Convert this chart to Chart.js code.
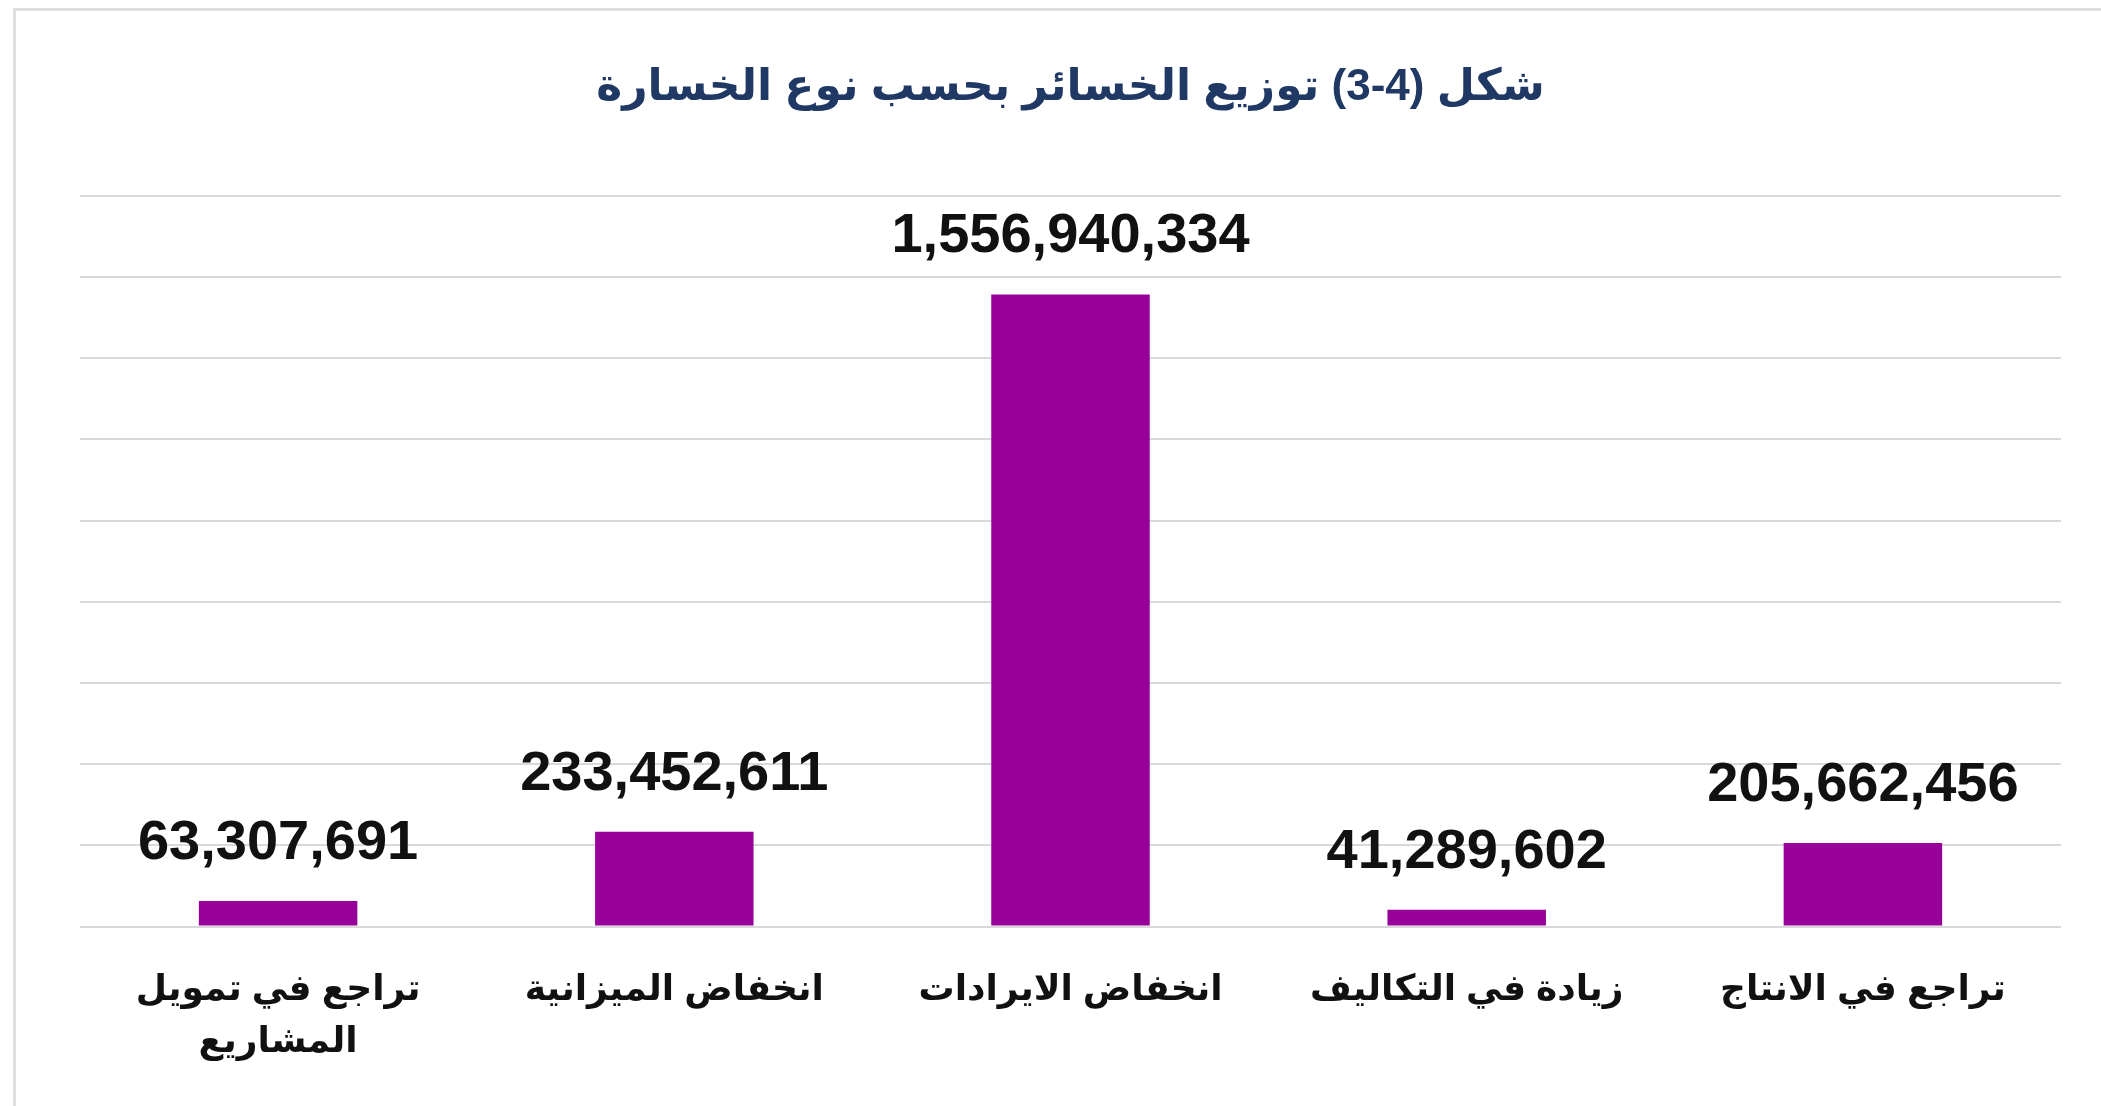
<!DOCTYPE html>
<html lang="ar">
<head>
<meta charset="utf-8">
<script src="https://cdn.jsdelivr.net/npm/chart.js@4/dist/chart.umd.min.js"></script>
<style>
  html, body { margin: 0; padding: 0; background: #ffffff; }
  #wrap { position: relative; width: 2101px; height: 1106px; }
  #frame { position: absolute; left: 13px; top: 8px; right: -10px; bottom: -10px;
           border-top: 3px solid #dedede; border-left: 3px solid #dedede; pointer-events: none; }
  canvas { direction: rtl; }
</style>
</head>
<body>
<div id="wrap">
  <canvas id="c" width="2101" height="1106"></canvas>
  <div id="frame"></div>
</div>
<script>
// Categories listed in Arabic reading order (right to left on the chart)
const categories = [
  "تراجع في الانتاج",
  "زيادة في التكاليف",
  "انخفاض الايرادات",
  "انخفاض الميزانية",
  ["تراجع في تمويل", "المشاريع"]
];
const lossValues = [205662456, 41289602, 1556940334, 233452611, 63307691];
const chartTitle = "شكل (\u20663-4\u2069) توزيع الخسائر بحسب نوع الخسارة";
const yMax = 1800000000;
const yStep = 200000000;

const valueLabels = {
  id: 'valueLabels',
  afterDatasetsDraw(chart) {
    const ctx = chart.ctx;
    const meta = chart.getDatasetMeta(0);
    ctx.save();
    ctx.font = 'bold 56px "Liberation Sans", Arial, sans-serif';
    ctx.fillStyle = '#111111';
    ctx.textAlign = 'center';
    ctx.textBaseline = 'alphabetic';
    ctx.direction = 'ltr';
    meta.data.forEach((bar, i) => {
      const v = chart.data.datasets[0].data[i];
      ctx.fillText(v.toLocaleString('en-US'), bar.x, bar.y - 42);
    });
    ctx.restore();
  }
};

new Chart(document.getElementById('c'), {
  type: 'bar',
  data: {
    labels: categories,
    datasets: [{
      data: lossValues,
      backgroundColor: '#98009a',
      borderWidth: 0,
      barPercentage: 0.4,
      categoryPercentage: 1.0
    }]
  },
  options: {
    responsive: false,
    animation: false,
    devicePixelRatio: 1,
    layout: { padding: { left: 80, right: 40, top: 53, bottom: 1 } },
    plugins: {
      legend: { display: false },
      tooltip: { enabled: false },
      title: {
        display: true,
        text: chartTitle,
        color: '#1f3864',
        font: { family: 'Arial, "Liberation Sans", "DejaVu Sans", sans-serif', size: 44, weight: 'bold', lineHeight: 1.2 },
        padding: { top: 8, bottom: 82 }
      }
    },
    scales: {
      x: {
        reverse: true,
        grid: { display: false, drawTicks: false },
        border: { display: false },
        ticks: {
          color: '#111111',
          padding: 37,
          maxRotation: 0,
          autoSkip: false,
          font: { family: 'Arial, "Liberation Sans", "DejaVu Sans", sans-serif', size: 36, weight: 'bold', lineHeight: 1.45 }
        }
      },
      y: {
        min: 0,
        max: yMax,
        grid: { color: '#d9d9d9', lineWidth: 2, drawTicks: false },
        border: { display: false },
        ticks: { display: false, stepSize: yStep }
      }
    }
  },
  plugins: [valueLabels]
});
</script>
</body>
</html>
